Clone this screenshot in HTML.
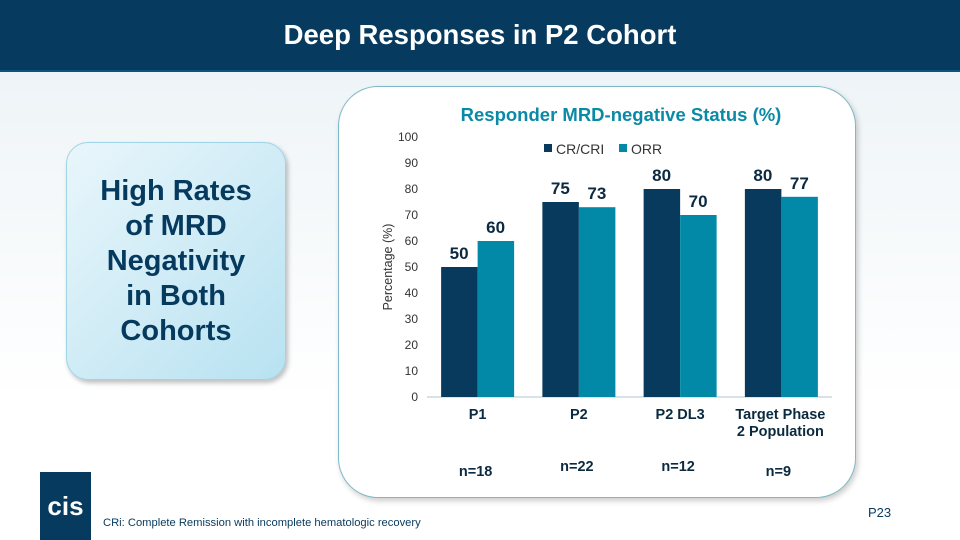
<!DOCTYPE html>
<html><head><meta charset="utf-8"><style>
body{margin:0;width:960px;height:540px;overflow:hidden;background:#fff;font-family:"Liberation Sans",Arial,sans-serif;position:relative}
.hdr{position:absolute;left:0;top:0;width:960px;height:70px;background:#063a5e;border-bottom:2px solid #0a5680}
.hdr h1{margin:0;color:#fff;font-size:27.5px;font-weight:bold;text-align:center;line-height:70px}
.bg{position:absolute;left:0;top:72px;width:960px;height:468px;background:linear-gradient(180deg,#eef4f7,#fff 70%)}
.lbox{position:absolute;left:66px;top:142px;width:218px;height:236px;border-radius:22px;background:linear-gradient(135deg,#e9f6fb,#b8e2f1);border:1px solid #9fd3e6;box-shadow:2px 3px 5px rgba(0,0,0,.25);display:flex;align-items:center;justify-content:center;text-align:center;color:#053a5e;font-weight:bold;font-size:29px;line-height:35px}
.card{position:absolute;left:338px;top:86px;width:516px;height:410px;border-radius:40px;background:#fff;border:1.5px solid #7fb9c9;box-shadow:2px 3px 6px rgba(0,0,0,.2)}
.logo{position:absolute;left:40px;top:472px;width:51px;height:68px;background:#063a5e;color:#fff;font-weight:bold;font-size:26px;text-align:center;line-height:68px}
.foot{position:absolute;left:103px;top:517px;font-size:11.2px;color:#063a5e}
.pg{position:absolute;left:868px;top:505px;font-size:13px;color:#063a5e}
</style></head><body>
<div class="bg"></div>
<div class="hdr"><h1>Deep Responses in P2 Cohort</h1></div>
<div class="lbox">High Rates<br>of MRD<br>Negativity<br>in Both<br>Cohorts</div>
<div class="card"></div>
<svg id="chart" width="960" height="540" style="position:absolute;left:0;top:0"></svg>
<div class="logo">cis</div>
<div class="foot">CRi: Complete Remission with incomplete hematologic recovery</div>
<div class="pg">P23</div>
<script>
const categories=[["P1"],["P2"],["P2 DL3"],["Target Phase","2 Population"]];
const crValues=[50,75,80,80];
const orrValues=[60,73,70,77];
const nLabels=["n=18","n=22","n=12","n=9"];
const yTicks=[0,10,20,30,40,50,60,70,80,90,100];
const seriesNames=["CR/CRI","ORR"];
const NS="http://www.w3.org/2000/svg";
const svg=document.getElementById('chart');
const x0=427,x1=832,yB=397,yT=137;
const bw=(x1-x0)/categories.length;
const y=v=>yB-(v/100)*(yB-yT);
function mk(t,a,txt){const e=document.createElementNS(NS,t);for(const k in a)e.setAttribute(k,a[k]);if(txt!==undefined)e.textContent=txt;svg.appendChild(e);return e;}
let e=mk('text',{x:621,y:121,'text-anchor':'middle','font-size':18.5,'font-weight':'bold',fill:'#0a8aa6'},'Responder MRD-negative Status (%)');


yTicks.forEach(t=>{const l=mk('text',{x:418,y:y(t)+4,'text-anchor':'end','font-size':12,fill:'#333'},t);

});
e=mk('text',{x:0,y:0,transform:'translate(392,267) rotate(-90)','text-anchor':'middle','font-size':12.5,fill:'#333'},'Percentage (%)');


e=mk('line',{x1:x0,x2:x1,y1:yB,y2:yB,stroke:'#c8dbe3','stroke-width':1.5});


const colors=['#073a5c','#0289a8'];
[crValues,orrValues].forEach((vals,s)=>{vals.forEach((v,i)=>{const cx=x0+bw*(i+0.5);const bx=cx-36.5+s*36.5;
const r=mk('rect',{x:bx,y:y(v),width:36.5,height:yB-y(v),fill:colors[s]});


const t=mk('text',{x:bx+18,y:y(v)-8,'text-anchor':'middle','font-size':17,'font-weight':'bold',fill:'#0b2a40'},v);

});});
categories.forEach((c,i)=>{const cx=x0+bw*(i+0.5)+(i==3?-1:0);c.forEach((ln,j)=>{const t=mk('text',{x:cx,y:419+j*17,'text-anchor':'middle','font-size':14.5,'font-weight':'bold',fill:'#0b2a40'},ln);

});
const n=mk('text',{x:cx-2,y:[476,471,471,476][i],'text-anchor':'middle','font-size':14.5,'font-weight':'bold',fill:'#0b2a40'},nLabels[i]);

});
seriesNames.forEach((s,i)=>{const lx=[544,619][i];
const r=mk('rect',{x:lx,y:144,width:8,height:8,fill:colors[i]});


const t=mk('text',{x:lx+12,y:154,'font-size':14,fill:'#333'},s);

});
</script>
</body></html>
